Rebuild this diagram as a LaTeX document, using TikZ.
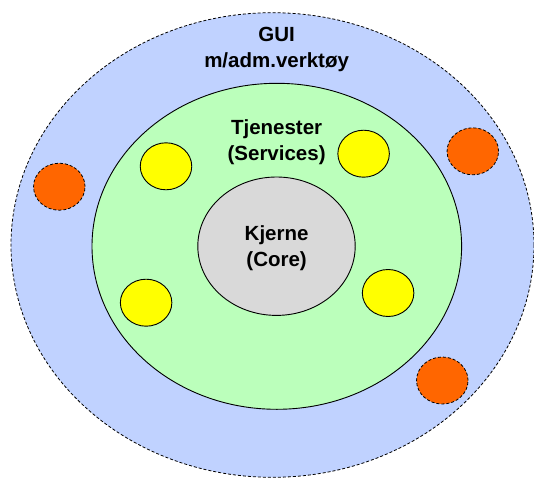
\documentclass[tikz,border=0pt]{standalone}
\usepackage{fontspec}
\setmainfont{Liberation Sans}
\usetikzlibrary{shapes.geometric}
\definecolor{guiblue}{HTML}{C0D2FF}
\definecolor{svcgreen}{HTML}{BBFFBB}
\definecolor{coregray}{HTML}{D9D9D9}
\definecolor{svcyellow}{HTML}{FFFF00}
\definecolor{guiorange}{HTML}{FF6600}
\begin{document}
\begin{tikzpicture}[x=1pt,y=-1pt,
  ring/.style={ellipse,draw=black,line width=0.9pt,inner sep=0pt},
  dashring/.style={ring,dash pattern=on 3pt off 2pt,line width=0.8pt},
  blob/.style={ellipse,draw=black,line width=0.9pt,inner sep=0pt,minimum width=51.5pt,minimum height=47pt},
  dashblob/.style={blob,dash pattern=on 3pt off 2pt,line width=0.8pt,fill=guiorange},
  lbl/.style={font=\bfseries\fontsize{20.5}{26}\selectfont,align=center,inner sep=0pt}]
\useasboundingbox (0,0) rectangle (534,478);
\node[dashring,fill=guiblue,minimum width=523pt,minimum height=464.6pt] (gui) at (272.5,245) {};
\node[ring,fill=svcgreen,minimum width=369.6pt,minimum height=326pt] (svc) at (276.8,246.3) {};
\node[ring,fill=coregray,minimum width=157.4pt,minimum height=138.4pt] (core) at (276.5,246.2) {};
\node[blob,fill=svcyellow] (y1) at (166,166.3) {};
\node[blob,fill=svcyellow] (y2) at (363.6,153.7) {};
\node[blob,fill=svcyellow] (y3) at (146.1,302.7) {};
\node[blob,fill=svcyellow] (y4) at (388.1,293) {};
\node[dashblob] (o1) at (59.3,186.7) {};
\node[dashblob] (o2) at (472.8,151.3) {};
\node[dashblob] (o3) at (442.3,380.5) {};
\node[lbl] (guitxt) at (276.6,49) {GUI\\m/adm.verktøy};
\node[lbl] (svctxt) at (276.6,142) {Tjenester\\(Services)};
\node[lbl] (coretxt) at (276.6,248) {Kjerne\\(Core)};
\end{tikzpicture}
\end{document}
